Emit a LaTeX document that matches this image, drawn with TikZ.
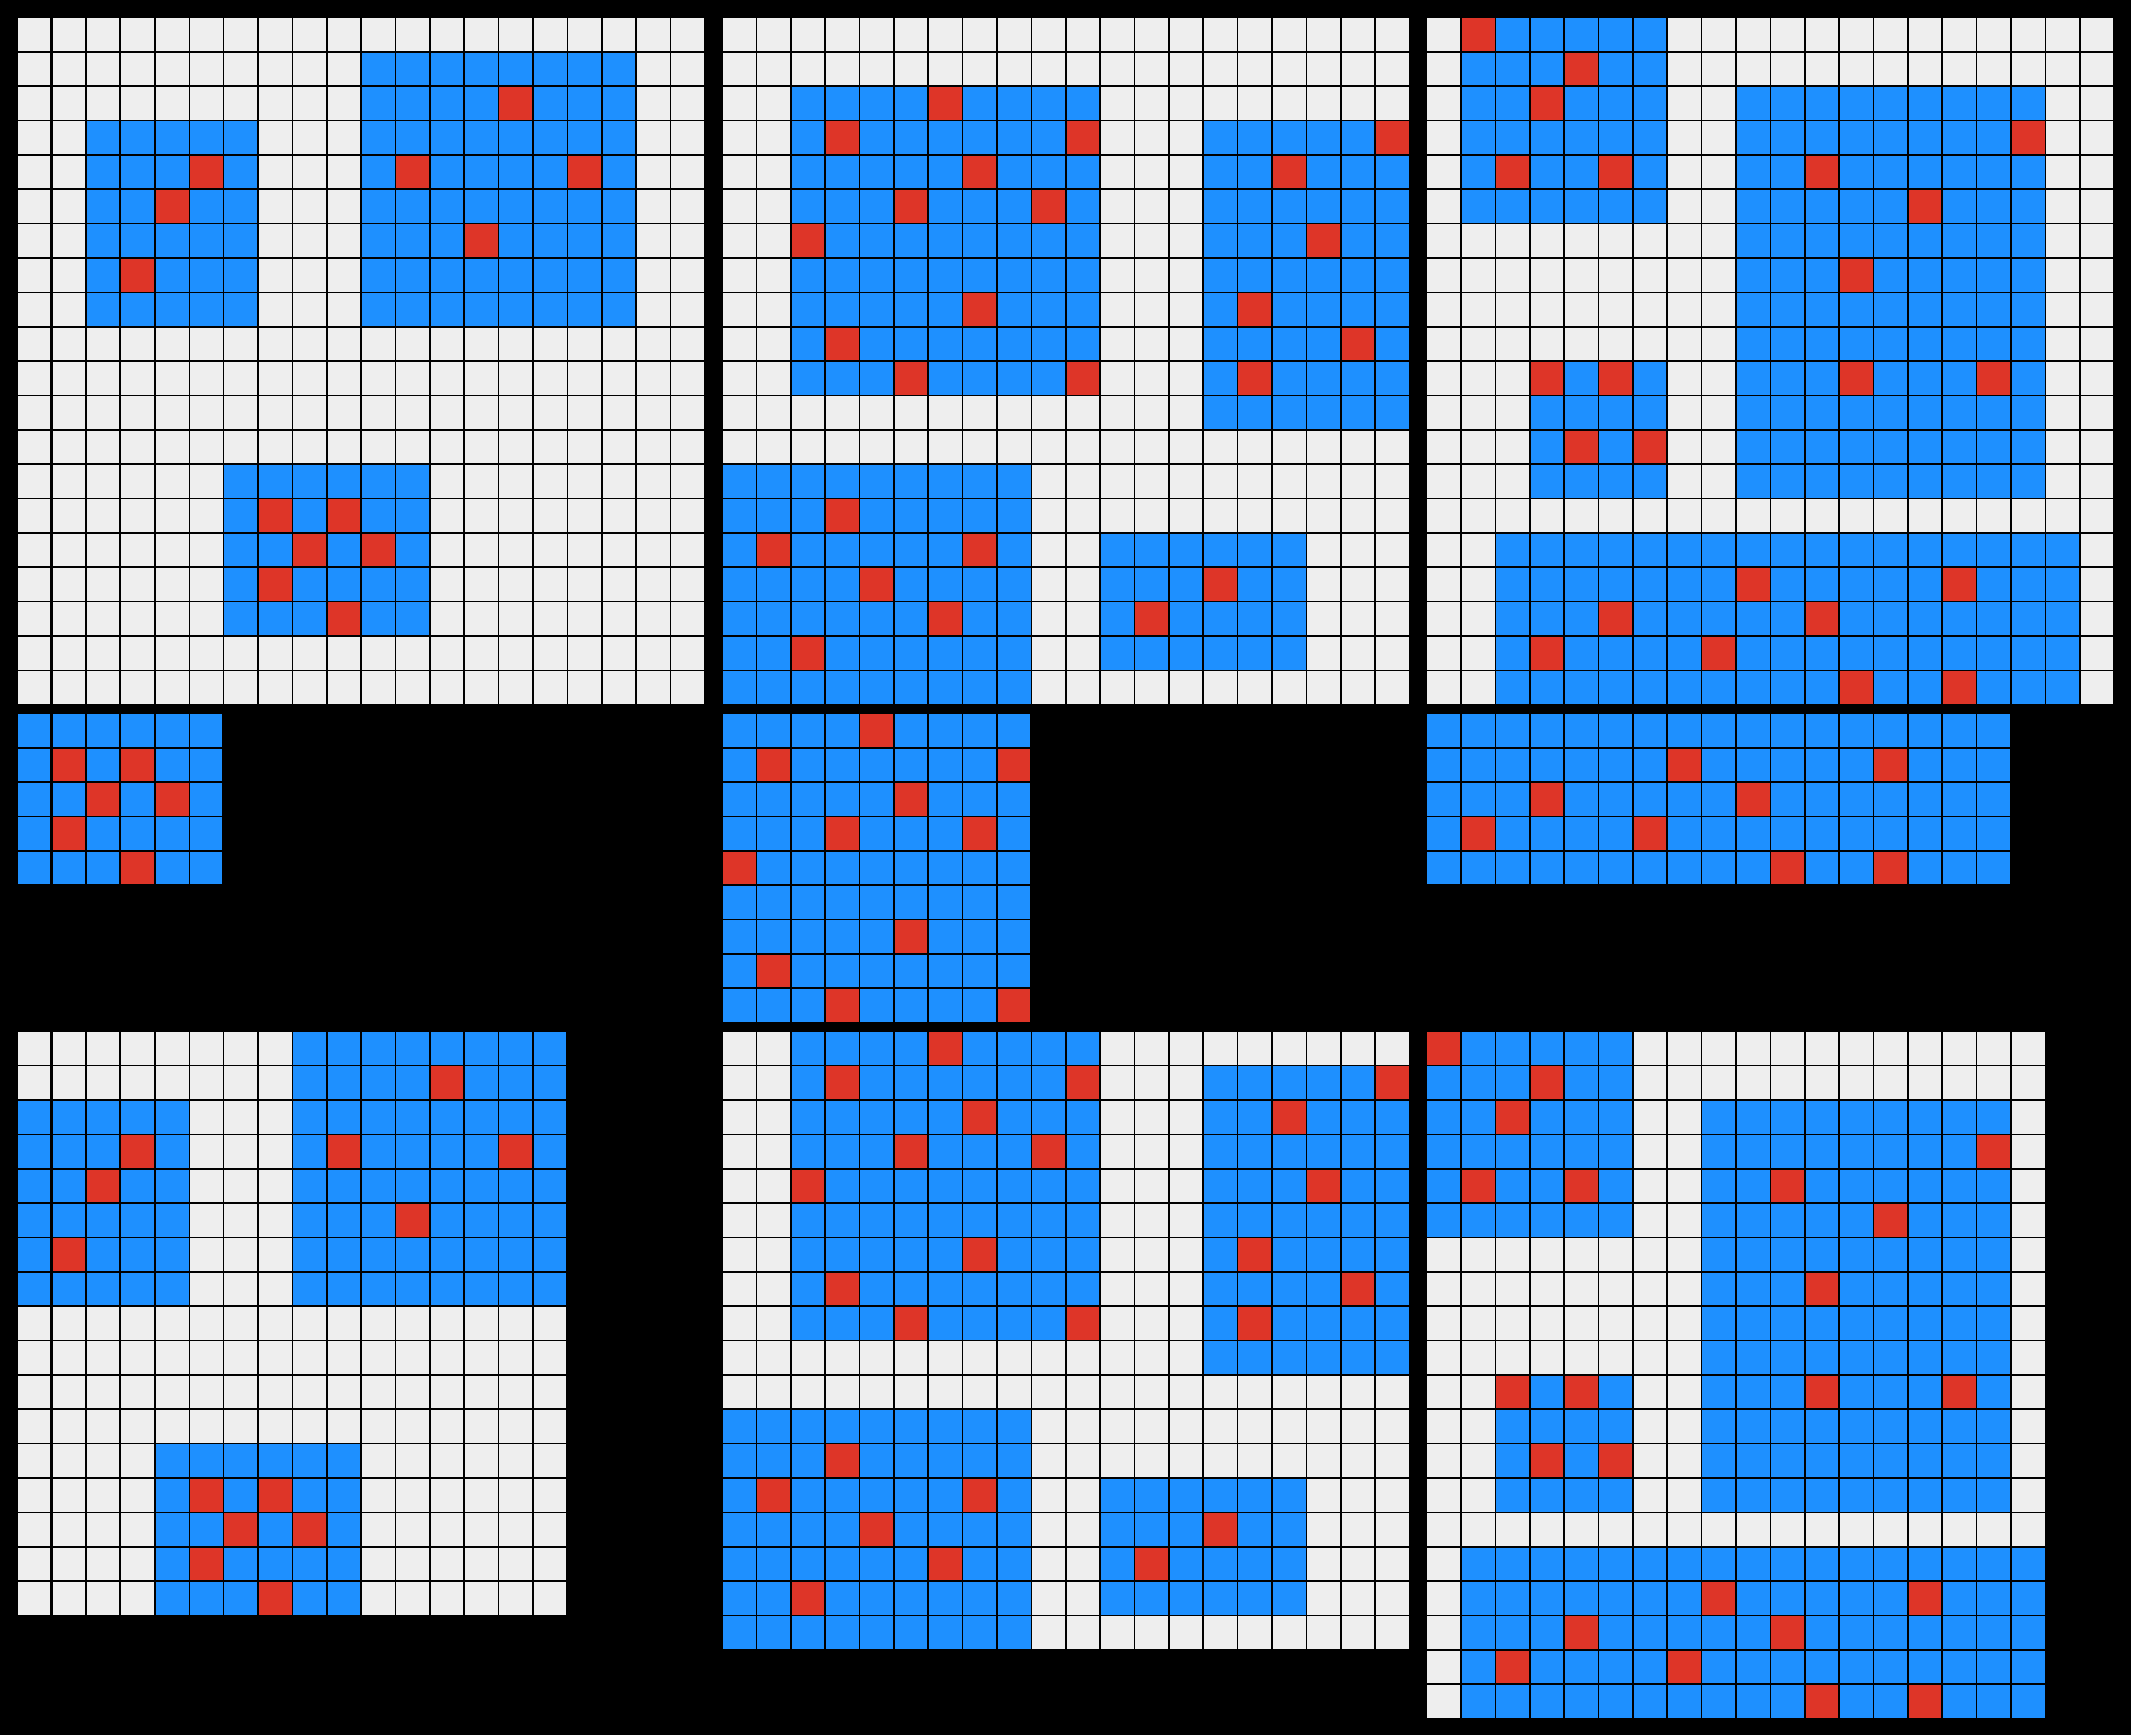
\documentclass[tikz,border=0pt]{standalone}
\usepackage{xcolor}
\definecolor{arcGray}{HTML}{EEEEEE}
\definecolor{arcBlue}{HTML}{1E90FF}
\definecolor{arcRed}{HTML}{DE3528}
\newcommand{\arcreds}[1]{%
  \foreach \cx/\cy in {#1}{\fill[arcRed] (\cx,\cy) rectangle ++(1,1);}}
% x, y, width, height, contents, offset of the crop
\newcommand{\arcgrid}[6]{%
  \begin{scope}[shift={(#1,#2)}, yscale=-1]
    \fill[arcGray] (0,0) rectangle (#3,#4);
    \begin{scope}
      \clip (0,0) rectangle (#3,#4);
      \begin{scope}[shift={(#6)}] #5 \end{scope}
    \end{scope}
    \draw[cellline] (0,0) grid (#3,#4);
  \end{scope}}
\newcommand{\exone}{%
  \fill[arcBlue] (2,3) rectangle ++(5,6);
  \fill[arcBlue] (10,1) rectangle ++(8,8);
  \fill[arcBlue] (6,13) rectangle ++(6,5);
  \arcreds{5/4,4/5,3/7,14/2,11/4,16/4,13/6,7/14,9/14,8/15,10/15,7/16,9/17}}
\newcommand{\extwo}{%
  \fill[arcBlue] (2,2) rectangle ++(9,9);
  \fill[arcBlue] (14,3) rectangle ++(6,9);
  \fill[arcBlue] (0,13) rectangle ++(9,7);
  \fill[arcBlue] (11,15) rectangle ++(6,4);
  \arcreds{6/2,3/3,10/3,7/4,5/5,9/5,2/6,7/8,3/9,5/10,10/10,
    19/3,16/4,17/6,15/8,18/9,15/10,3/14,1/15,7/15,4/16,6/17,2/18,14/16,12/17}}
\newcommand{\exthree}{%
  \fill[arcBlue] (1,0) rectangle ++(6,6);
  \fill[arcBlue] (9,2) rectangle ++(9,12);
  \fill[arcBlue] (3,10) rectangle ++(4,4);
  \fill[arcBlue] (2,15) rectangle ++(17,5);
  \arcreds{1/0,4/1,3/2,2/4,5/4,17/3,11/4,14/5,12/7,12/10,16/10,
    3/10,5/10,4/12,6/12,9/16,15/16,5/17,11/17,3/18,8/18,12/19,15/19}}
\begin{document}
\begin{tikzpicture}[cellline/.style={black, line width=0.047cm}]
\fill[black] (0,0) rectangle (62,-50.5);

% ── inputs ──
\arcgrid{0.5}{-0.5}{20}{20}{\exone}{0,0}
\arcgrid{21}{-0.5}{20}{20}{\extwo}{0,0}
\arcgrid{41.5}{-0.5}{20}{20}{\exthree}{0,0}

% ── selected blocks ──
\arcgrid{0.5}{-20.75}{6}{5}{\exone}{-6,-13}
\arcgrid{21}{-20.75}{9}{9}{\extwo}{-2,-2}
\arcgrid{41.5}{-20.75}{17}{5}{\exthree}{-2,-15}

% ── cropped inputs ──
\arcgrid{0.5}{-30}{16}{17}{\exone}{-2,-1}
\arcgrid{21}{-30}{20}{18}{\extwo}{0,-2}
\arcgrid{41.5}{-30}{18}{20}{\exthree}{-1,0}
\end{tikzpicture}
\end{document}
